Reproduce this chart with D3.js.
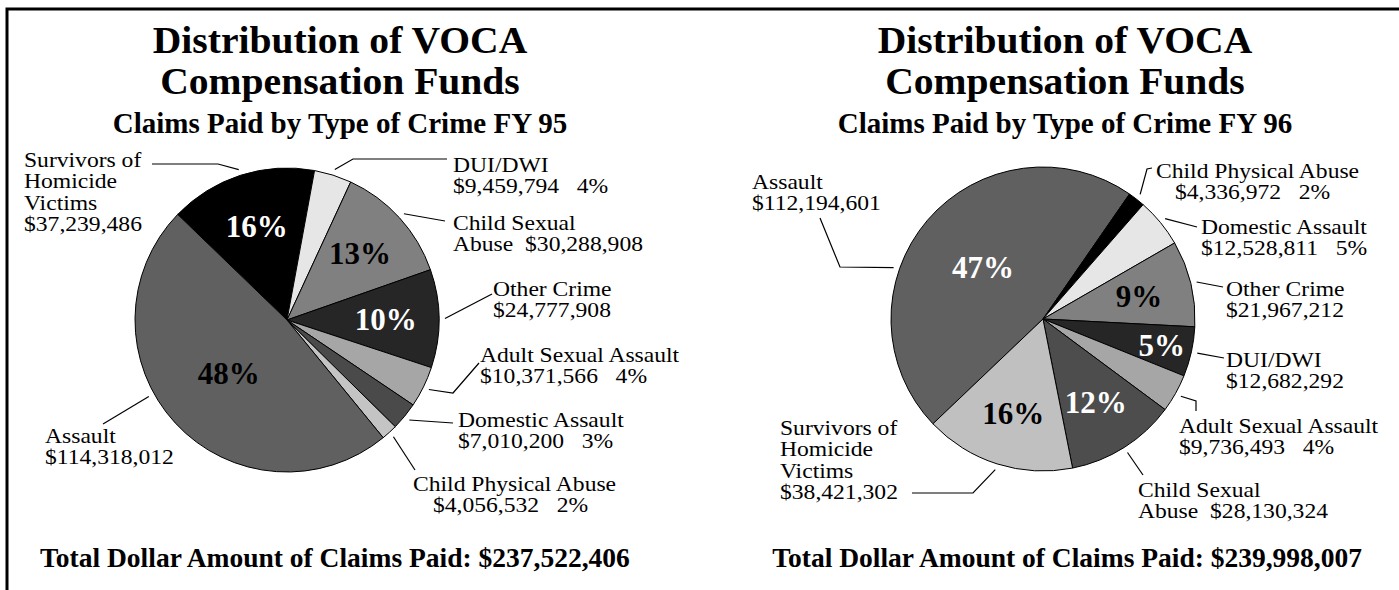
<!DOCTYPE html>
<html>
<head>
<meta charset="utf-8">
<script src="https://cdn.jsdelivr.net/npm/d3@7"></script>
<style>
  body { margin: 0; background: #fff; }
  text { font-family: "Liberation Serif", "Times New Roman", serif; fill: #000; }
</style>
</head>
<body>
<div id="chart"></div>
<script>
// FY 95 claims paid, by type of crime (pie order, clockwise)
const categories95 = ["Survivors of Homicide Victims", "DUI/DWI", "Child Sexual Abuse", "Other Crime",
  "Adult Sexual Assault", "Domestic Assault", "Child Physical Abuse", "Assault"];
const values95 = [37239486, 9459794, 30288908, 24777908, 10371566, 7010200, 4056532, 114318012];

// FY 96 claims paid, by type of crime (pie order, clockwise)
const categories96 = ["Assault", "Child Physical Abuse", "Domestic Assault", "Other Crime",
  "DUI/DWI", "Adult Sexual Assault", "Child Sexual Abuse", "Survivors of Homicide Victims"];
const values96 = [112194601, 4336972, 12528811, 21967212, 12682292, 9736493, 28130324, 38421302];

const fiscalYears = ["95", "96"];

// styling
const fills95 = ["#000000", "#e6e6e6", "#808080", "#262626", "#a6a6a6", "#4a4a4a", "#c4c4c4", "#606060"];
const fills96 = ["#606060", "#000000", "#e6e6e6", "#808080", "#262626", "#a6a6a6", "#4d4d4d", "#c0c0c0"];
// colour of the percent written inside the slice, null = percent goes in the outside label
const inner95 = ["#fff", null, "#000", "#fff", null, null, null, "#000"];
const inner96 = ["#fff", null, null, "#000", "#fff", null, "#fff", "#000"];

// outside label placement: text anchor, leader bends, optional angle where leader leaves the pie
const layout95 = [
  { x: 24, y: 167, pts: [[218, 164], [152, 164]] },
  { x: 453, y: 172, pts: [[353, 159], [447, 159]] },
  { x: 453, y: 230, pts: [[445, 221]] },
  { x: 493, y: 296, pts: [[492, 294]] },
  { x: 480, y: 362, pts: [[453, 393], [479, 363]] },
  { x: 458, y: 427, pts: [[453, 423]] },
  { x: 413, y: 491, indent: 20, pts: [[415, 470]] },
  { x: 45, y: 443, at: 241, pts: [[103, 424]] }
];
const layout96 = [
  { x: 752, y: 189, at: -71, pts: [[840, 267], [820, 218]] },
  { x: 1156, y: 178, indent: 19, pts: [[1147, 169], [1152, 168]] },
  { x: 1201, y: 234, pts: [[1197, 227]] },
  { x: 1226, y: 296, pts: [[1223, 287]] },
  { x: 1226, y: 367, pts: [[1224, 358]] },
  { x: 1179, y: 433, pts: [[1196, 401], [1196, 411]] },
  { x: 1138, y: 497, pts: [[1143, 475]] },
  { x: 780, y: 435, pts: [[973, 493], [912, 493]] }
];

const W = 1399, H = 590, R = 152;
const fmt = d3.format(",");
const lineSplit = {
  "Survivors of Homicide Victims": ["Survivors of", "Homicide", "Victims"],
  "Child Sexual Abuse": ["Child Sexual", "Abuse"]
};

const svg = d3.select("#chart").append("svg")
  .attr("width", W).attr("height", H);

// frame (top and left edge only)
svg.append("path")
  .attr("d", "M7," + H + "V9H" + W)
  .attr("fill", "none").attr("stroke", "#000").attr("stroke-width", 3);

const charts = [
  { cats: categories95, vals: values95, fills: fills95, inner: inner95, layout: layout95,
    cx: 287, cy: 320, start: -46, year: fiscalYears[0], titleX: 340, footX: 40, footAnchor: "start" },
  { cats: categories96, vals: values96, fills: fills96, inner: inner96, layout: layout96,
    cx: 1043, cy: 319, start: -133.6, year: fiscalYears[1], titleX: 1065, footX: 1362, footAnchor: "end" }
];

charts.forEach(function(c) {
  const total = d3.sum(c.vals);
  const data = c.cats.map(function(name, i) {
    return { name: name, value: c.vals[i], fill: c.fills[i], inner: c.inner[i], lay: c.layout[i] };
  });
  const pie = d3.pie().sort(null).value(function(d) { return d.value; })
    .startAngle(c.start * Math.PI / 180)
    .endAngle((c.start + 360) * Math.PI / 180);
  const arcs = pie(data);
  const arc = d3.arc().innerRadius(0).outerRadius(R);

  // titles
  [["Distribution of VOCA", 53], ["Compensation Funds", 94]].forEach(function(t) {
    svg.append("text")
      .attr("transform", "translate(" + c.titleX + "," + t[1] + ") scale(1.07,1)")
      .attr("text-anchor", "middle")
      .style("font-weight", "bold").style("font-size", "37px")
      .text(t[0]);
  });
  svg.append("text")
    .attr("x", c.titleX).attr("y", 133)
    .attr("text-anchor", "middle")
    .style("font-weight", "bold").style("font-size", "29px")
    .text("Claims Paid by Type of Crime FY " + c.year);

  const g = svg.append("g").attr("transform", "translate(" + c.cx + "," + c.cy + ")");

  g.selectAll("path.slice")
    .data(arcs)
    .enter().append("path")
    .attr("class", "slice")
    .attr("d", arc)
    .attr("fill", function(d) { return d.data.fill; })
    .attr("stroke", "#000")
    .attr("stroke-width", 1);

  // percent inside the slices
  g.selectAll("text.pct")
    .data(arcs.filter(function(d) { return d.data.inner; }))
    .enter().append("text")
    .attr("class", "pct")
    .attr("transform", function(d) {
      const share = d.data.value / total;
      const k = share > 0.3 ? 0.52 : (share < 0.06 ? 0.8 : 0.65);
      const p = d3.arc().innerRadius(R * k).outerRadius(R * k).centroid(d);
      return "translate(" + p[0] + "," + p[1] + ")";
    })
    .attr("text-anchor", "middle")
    .attr("dy", "0.35em")
    .style("font-weight", "bold").style("font-size", "31px")
    .style("fill", function(d) { return d.data.inner; })
    .text(function(d) { return Math.round(d.data.value / total * 100) + "%"; });

  // leader lines
  const line = d3.line();
  g.selectAll("path.leader")
    .data(arcs)
    .enter().append("path")
    .attr("class", "leader")
    .attr("fill", "none").attr("stroke", "#000").attr("stroke-width", 1.2)
    .attr("d", function(d) {
      const lay = d.data.lay;
      const a = lay.at !== undefined ? lay.at * Math.PI / 180 : (d.startAngle + d.endAngle) / 2;
      const p0 = [(R + 6) * Math.sin(a), -(R + 6) * Math.cos(a)];
      return line([p0].concat(lay.pts.map(function(p) { return [p[0] - c.cx, p[1] - c.cy]; })));
    });

  // outside labels
  arcs.forEach(function(d) {
    const lay = d.data.lay;
    const pct = Math.round(d.data.value / total * 100) + "%";
    const amount = "$" + fmt(d.data.value);
    let lines = (lineSplit[d.data.name] || [d.data.name]).slice();
    if (d.data.name === "Child Sexual Abuse") {
      lines[lines.length - 1] += "  " + amount;
    } else {
      lines.push(d.data.inner ? amount : amount + "   " + pct);
    }
    const sx = 1.18;
    const t = svg.append("text")
      .attr("transform", "translate(" + lay.x + "," + lay.y + ") scale(" + sx + ",1)")
      .style("font-size", "20px")
      .style("white-space", "pre");
    lines.forEach(function(s, i) {
      t.append("tspan")
        .attr("x", i > 0 && lay.indent ? lay.indent / sx : 0)
        .attr("y", i * 21.5)
        .text(s);
    });
  });

  // footer
  svg.append("text")
    .attr("x", c.footX).attr("y", 567)
    .attr("text-anchor", c.footAnchor)
    .style("font-weight", "bold").style("font-size", "27.5px")
    .text("Total Dollar Amount of Claims Paid: $" + fmt(total));
});
</script>
</body>
</html>
